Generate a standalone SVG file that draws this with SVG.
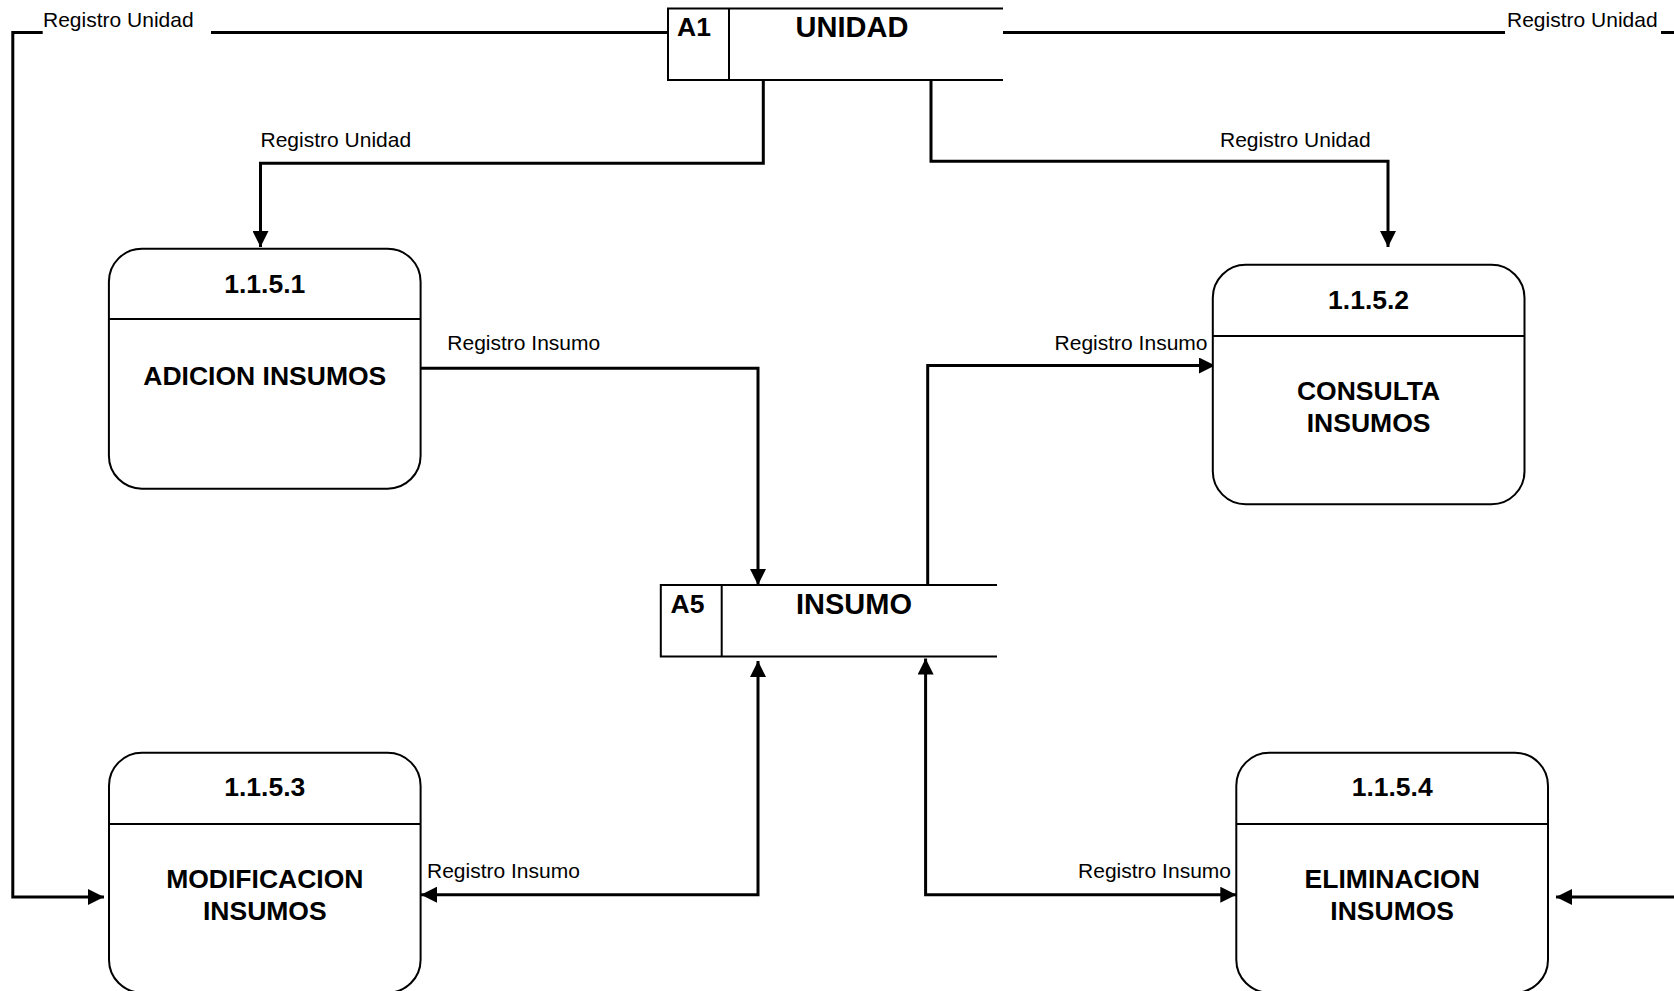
<svg xmlns="http://www.w3.org/2000/svg" width="1674" height="991" viewBox="0 0 1674 991">
<style>
.box{fill:#fff;stroke:#000;stroke-width:2}
.ln{fill:none;stroke:#000;stroke-width:2}
.con{fill:none;stroke:#000;stroke-width:3}
.t{font-family:"Liberation Sans",Arial,sans-serif;font-weight:bold;font-size:26.5px;text-anchor:middle;fill:#000}
.ts{font-family:"Liberation Sans",Arial,sans-serif;font-weight:bold;font-size:29px;text-anchor:middle;fill:#000}
.lb{font-family:"Liberation Sans",Arial,sans-serif;font-size:21px;fill:#000}
</style>
<defs>
<marker id="ah" markerWidth="17" markerHeight="16" refX="16" refY="8" orient="auto" markerUnits="userSpaceOnUse">
<path d="M0,0 L16,8 L0,16 z" fill="#000"/>
</marker>
<marker id="as" markerWidth="17" markerHeight="16" refX="0" refY="8" orient="auto" markerUnits="userSpaceOnUse">
<path d="M16,0 L0,8 L16,16 z" fill="#000"/>
</marker>
</defs>
<rect width="1674" height="991" fill="#fff"/>

<g id="connectors">
<path class="con" d="M668,32.5 H211 M42.7,32.5 H12.8 V897 H104" marker-end="url(#ah)"/>
<path class="con" d="M1003,32.5 H1505 M1661,32.5 H1680"/>
<path class="con" d="M1680,897 H1556" marker-end="url(#ah)"/>
<path class="con" d="M763.3,80 V163.3 H260.5 V247" marker-end="url(#ah)"/>
<path class="con" d="M931,80 V161.2 H1388 V247" marker-end="url(#ah)"/>
<path class="con" d="M420.6,368.3 H758 V585" marker-end="url(#ah)"/>
<path class="con" d="M927.7,585 V365.5 H1215" marker-end="url(#ah)"/>
<path class="con" d="M758,661 V894.7 H421" marker-start="url(#as)" marker-end="url(#ah)"/>
<path class="con" d="M925.6,658.5 V894.7 H1236.3" marker-start="url(#as)" marker-end="url(#ah)"/>
<text class="lb" x="43" y="27">Registro Unidad</text>
<text class="lb" x="1507" y="27">Registro Unidad</text>
<text class="lb" x="260.5" y="147">Registro Unidad</text>
<text class="lb" x="1220" y="147">Registro Unidad</text>
<text class="lb" x="447.3" y="350">Registro Insumo</text>
<text class="lb" x="1207.5" y="350" text-anchor="end">Registro Insumo</text>
<text class="lb" x="427" y="877.5">Registro Insumo</text>
<text class="lb" x="1231" y="877.5" text-anchor="end">Registro Insumo</text>
</g>

<g id="store-A1">
<path class="ln" d="M1003,8.5 H668 V80 H1003 M729,8.5 V80"/>
<text class="t" x="694" y="36">A1</text>
<text class="ts" x="852" y="37">UNIDAD</text>
</g>

<g id="store-A5">
<path class="ln" d="M997,585 H660.8 V656.6 H997 M721.7,585 V656.6"/>
<text class="t" x="687.5" y="612.5">A5</text>
<text class="ts" x="854" y="613.5">INSUMO</text>
</g>

<g id="p1151">
<rect class="box" x="108.9" y="248.7" width="311.7" height="240" rx="33" ry="33"/>
<line class="box" x1="108.9" y1="319" x2="420.6" y2="319"/>
<text class="t" x="264.8" y="292.5">1.1.5.1</text>
<text class="t" x="264.8" y="385">ADICION INSUMOS</text>
</g>

<g id="p1152">
<rect class="box" x="1212.8" y="264.8" width="311.7" height="239.5" rx="33" ry="33"/>
<line class="box" x1="1212.8" y1="336" x2="1524.5" y2="336"/>
<text class="t" x="1368.6" y="308.5">1.1.5.2</text>
<text class="t" x="1368.6" y="400">CONSULTA</text>
<text class="t" x="1368.6" y="432">INSUMOS</text>
</g>

<g id="p1153">
<rect class="box" x="109" y="752.7" width="311.6" height="240" rx="33" ry="33"/>
<line class="box" x1="109" y1="824" x2="420.6" y2="824"/>
<text class="t" x="264.8" y="796">1.1.5.3</text>
<text class="t" x="264.8" y="888">MODIFICACION</text>
<text class="t" x="264.8" y="920">INSUMOS</text>
</g>

<g id="p1154">
<rect class="box" x="1236.3" y="752.7" width="311.7" height="240" rx="33" ry="33"/>
<line class="box" x1="1236.3" y1="824" x2="1548" y2="824"/>
<text class="t" x="1392.2" y="796">1.1.5.4</text>
<text class="t" x="1392.2" y="888">ELIMINACION</text>
<text class="t" x="1392.2" y="920">INSUMOS</text>
</g>
</svg>
